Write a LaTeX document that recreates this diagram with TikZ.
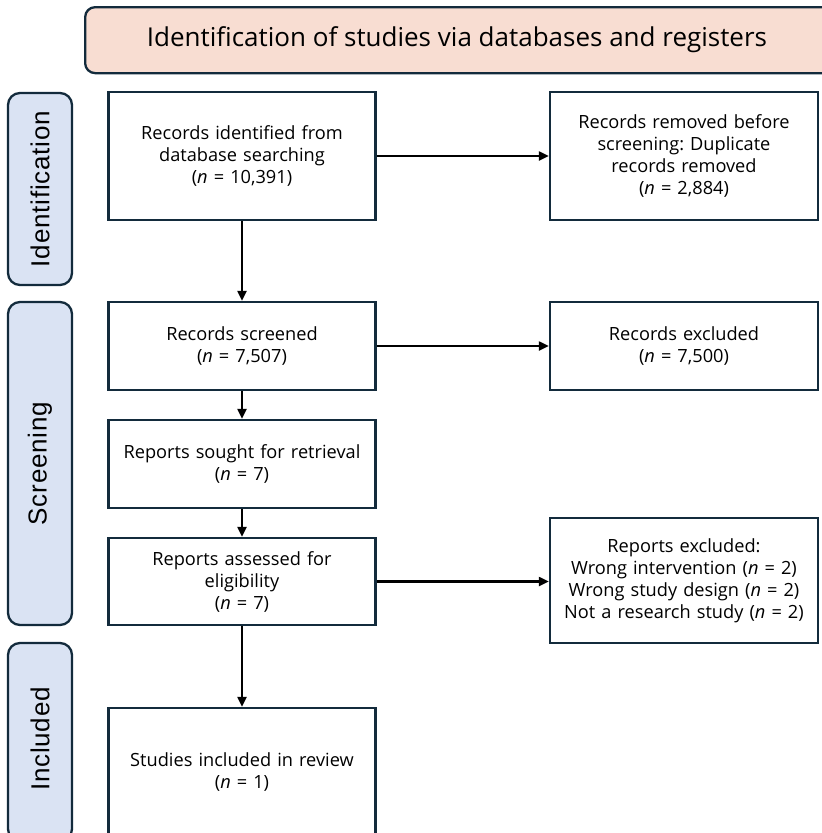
\documentclass[tikz,border=0pt]{standalone}
\usepackage{fontspec}
\setmainfont{Open Sans}
\newfontfamily\sidefont[LetterSpace=3]{Liberation Sans}
\usetikzlibrary{arrows.meta}
\frenchspacing
\definecolor{edgeblue}{HTML}{132B3C}
\definecolor{headfill}{HTML}{F8DDD2}
\definecolor{sidefill}{HTML}{DAE3F3}
\tikzset{
  flowbox/.style={draw=edgeblue, line width=2.3pt, fill=white, align=center,
    inner sep=4pt, font=\fontsize{18.2}{22}\selectfont},
  leftbox/.style={flowbox, minimum width=267pt, text width=255pt},
  rightbox/.style={flowbox, minimum width=268pt, text width=258pt},
  sidebox/.style={draw=edgeblue, line width=2.3pt, fill=sidefill,
    rounded corners=12pt, minimum width=64pt},
  sidetext/.style={rotate=90, font=\sidefont\fontsize{26}{30}\selectfont},
  flowarrow/.style={line width=2.1pt, -{Triangle[length=10pt,width=9pt]}}
}
\begin{document}
\begin{tikzpicture}[x=1pt,y=-1pt]
\clip (0,0) rectangle (822,833);

% header banner
\node[draw=edgeblue, line width=2.3pt, fill=headfill, rounded corners=10pt,
  minimum width=760pt, minimum height=66pt, anchor=north west,
  inner sep=0pt] (head) at (84,6) {};
\node[font=\fontsize{26}{30}\selectfont] (headtxt) at (457,40)
  {Identification of studies via databases and registers};

% phase labels
\node[sidebox, minimum height=192pt] (sideid) at (40,189) {};
\node[sidetext] (sideidtxt) at (40,189) {Identification};
\node[sidebox, minimum height=323pt] (sidescr) at (40,463.5) {};
\node[sidetext] (sidescrtxt) at (40,463.5) {Screening};
\node[sidebox, minimum height=198pt] (sideinc) at (40,742) {};
\node[sidetext] (sideinctxt) at (40,739) {Included};

% main flow
\node[leftbox, minimum height=128pt] (ident) at (242,156)
  {Records identified from\\database searching\\(\textit{n} = 10,391)};
\node[leftbox, minimum height=88pt] (screen) at (242,346)
  {Records screened\\(\textit{n} = 7,507)};
\node[leftbox, minimum height=88pt] (sought) at (242,464)
  {Reports sought for retrieval\\(\textit{n} = 7)};
\node[leftbox, minimum height=87pt] (assess) at (242,581.5)
  {Reports assessed for\\eligibility\\(\textit{n} = 7)};
\node[leftbox, minimum height=128pt] (incl) at (242,772)
  {Studies included in review\\(\textit{n} = 1)};

% exclusions
\node[rightbox, minimum height=128pt] (dup) at (684,156)
  {Records removed before\\screening: Duplicate\\records removed\\(\textit{n} = 2,884)};
\node[rightbox, minimum height=88pt] (excl) at (684,346)
  {Records excluded\\(\textit{n} = 7,500)};
\node[rightbox, minimum height=125pt] (repexcl) at (684,580.5)
  {Reports excluded:\\Wrong intervention (\textit{n} = 2)\\Wrong study design (\textit{n} = 2)\\Not a research study (\textit{n} = 2)};

% connectors
\draw[flowarrow] (ident.south) -- (screen.north);
\draw[flowarrow] (screen.south) -- (sought.north);
\draw[flowarrow] (sought.south) -- (assess.north);
\draw[flowarrow] (assess.south) -- (incl.north);
\draw[flowarrow] (ident.east) -- (ident.east -| dup.west);
\draw[flowarrow] (screen.east) -- (screen.east -| excl.west);
\draw[flowarrow] (assess.east) -- (assess.east -| repexcl.west);
\end{tikzpicture}
\end{document}
